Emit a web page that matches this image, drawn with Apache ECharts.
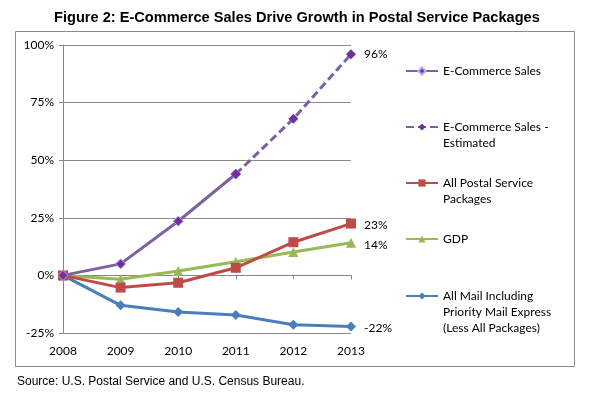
<!DOCTYPE html>
<html>
<head>
<meta charset="utf-8">
<script src="https://cdn.jsdelivr.net/npm/echarts@6/dist/echarts.min.js"></script>
<style>
  html, body { margin: 0; padding: 0; background: #fff; }
  #chart { width: 606px; height: 397px; }
</style>
</head>
<body>
<div id="chart"></div>
<script>
// data (percent change since 2008)
var years = ["2008", "2009", "2010", "2011", "2012", "2013"];
var ecommerce = [0, 5, 23.5, 44, null, null];
var ecommerceEst = [null, null, null, 44, 68, 96];
var postalPackages = [0, -5.3, -3.2, 3.3, 14.4, 22.5];
var gdp = [0, -1.7, 1.9, 5.9, 10.2, 14.2];
var allMail = [0, -13, -15.9, -17.2, -21.4, -22.2];
var yTicks = [-25, 0, 25, 50, 75, 100];

// legend text as shown, line-broken like the original
var legendText = {
  "E-Commerce Sales": "E-Commerce Sales",
  "E-Commerce Sales - Estimated": "E-Commerce Sales -\nEstimated",
  "All Postal Service Packages": "All Postal Service\nPackages",
  "GDP": "GDP",
  "All Mail Including Priority Mail Express (Less All Packages)":
    "All Mail Including\nPriority Mail Express\n(Less All Packages)",
};

var LH = 16;
var FONT = "Lato, 'Open Sans', sans-serif";

// label only the last point
function endLabel(offsetY) {
  return {
    show: true,
    position: "right",
    distance: 8,
    offset: [0, offsetY || 0],
    color: "#000",
    fontSize: 12,
    fontFamily: FONT,
    formatter: function (p) {
      return p.dataIndex === years.length - 1 ? Math.round(p.value) + "%" : "";
    },
  };
}

// one legend per item so rows sit where the original has them;
// blank lines on top keep the marker on the first text line
function legendFor(name, firstLineY) {
  var n = legendText[name].split("\n").length;
  var total = 2 * n - 1;
  return {
    data: [name],
    left: 405,
    top: firstLineY - (total * LH) / 2,
    padding: 0,
    itemWidth: 32,
    itemHeight: 9,
    selectedMode: false,
    formatter: function (nm) {
      return new Array(n).join("\n") + legendText[nm];
    },
    textStyle: {
      fontSize: 12,
      fontFamily: FONT,
      color: "#000",
      lineHeight: LH,
    },
  };
}

var chart = echarts.init(document.getElementById("chart"));
chart.setOption({
  animation: false,
  title: {
    text: "Figure 2: E-Commerce Sales Drive Growth in Postal Service Packages",
    left: 49,
    top: 5,
    textStyle: {
      fontSize: 14.6,
      fontWeight: "bold",
      fontFamily: "'Liberation Sans', Arial, sans-serif",
      color: "#000",
    },
  },
  graphic: [
    {
      type: "rect",
      shape: { x: 15.5, y: 31.5, width: 559, height: 335 },
      style: { fill: "none", stroke: "#8c8c8c", lineWidth: 1 },
      silent: true,
    },
    {
      type: "text",
      left: 17,
      top: 376,
      style: {
        text: "Source: U.S. Postal Service and U.S. Census Bureau.",
        fontSize: 12,
        fontFamily: "'Liberation Sans', Arial, sans-serif",
        fill: "#000",
      },
    },
  ],
  legend: [
    legendFor("E-Commerce Sales", 71),
    legendFor("E-Commerce Sales - Estimated", 127),
    legendFor("All Postal Service Packages", 183),
    legendFor("GDP", 239),
    legendFor("All Mail Including Priority Mail Express (Less All Packages)", 296),
  ],
  grid: { left: 63, right: 255, top: 45, bottom: 64 },
  xAxis: {
    type: "category",
    data: years,
    boundaryGap: false,
    axisLine: { lineStyle: { color: "#868686", width: 1 } },
    axisTick: { show: true, length: 4, lineStyle: { color: "#868686" } },
    axisLabel: { color: "#000", fontSize: 12, fontFamily: FONT, margin: 12 },
  },
  yAxis: {
    type: "value",
    min: -25,
    max: 100,
    interval: 25,
    axisLine: { show: true, lineStyle: { color: "#868686", width: 1 } },
    axisTick: { show: true, length: 4, lineStyle: { color: "#868686" } },
    splitLine: { lineStyle: { color: "#8c8c8c", width: 1 } },
    axisLabel: {
      color: "#000",
      fontSize: 12,
      fontFamily: FONT,
      margin: 9,
      formatter: function (v) {
        return yTicks.indexOf(v) >= 0 ? v + "%" : "";
      },
    },
  },
  series: [
    {
      name: "All Mail Including Priority Mail Express (Less All Packages)",
      type: "line",
      data: allMail,
      symbol: "diamond",
      symbolSize: 10,
      lineStyle: { color: "#4a7ebb", width: 3 },
      itemStyle: { color: "#4a7ebb" },
      label: endLabel(2),
      z: 2,
    },
    {
      name: "GDP",
      type: "line",
      data: gdp,
      symbol: "triangle",
      symbolSize: 10,
      lineStyle: { color: "#98b954", width: 3 },
      itemStyle: { color: "#98b954" },
      label: endLabel(2),
      z: 3,
    },
    {
      name: "All Postal Service Packages",
      type: "line",
      data: postalPackages,
      symbol: "rect",
      symbolSize: 10,
      lineStyle: { color: "#be4b48", width: 3 },
      itemStyle: { color: "#be4b48" },
      label: endLabel(2),
      z: 3,
    },
    {
      name: "E-Commerce Sales",
      type: "line",
      data: ecommerce,
      symbol: "diamond",
      symbolSize: 10,
      lineStyle: { color: "#7d60a0", width: 3 },
      itemStyle: { color: "#7030a0", borderColor: "#b4a8e8", borderWidth: 1 },
      z: 4,
    },
    {
      name: "E-Commerce Sales - Estimated",
      type: "line",
      data: ecommerceEst,
      symbol: "diamond",
      symbolSize: 10,
      lineStyle: { color: "#7d60a0", width: 3, type: [8, 4] },
      itemStyle: { color: "#7030a0" },
      label: endLabel(0),
      z: 4,
    },
  ],
});
</script>
</body>
</html>
